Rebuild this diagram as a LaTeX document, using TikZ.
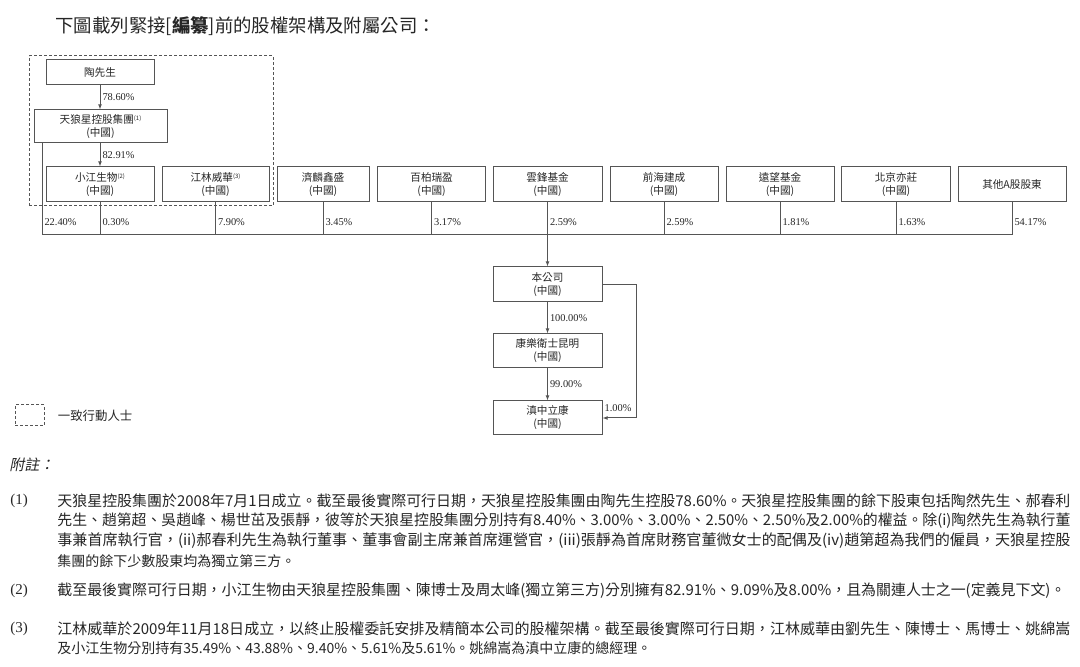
\documentclass[tikz,border=0pt]{standalone}
\usepackage{fontspec}
\usepackage{graphicx}
\setmainfont{Noto Sans CJK TC}
\newfontfamily\serifnum{Liberation Serif}
\newfontfamily\slantcjk[FakeSlant=0.2]{Noto Sans CJK TC}
\usetikzlibrary{positioning, arrows.meta}
\definecolor{chartline}{HTML}{555555}
\definecolor{charttext}{HTML}{262626}

\newcommand{\refmark}[1]{\raisebox{1.6pt}{\fontsize{3}{3}\selectfont(#1)}}
% full-width note line, brought to the measure
\newcommand{\noteline}[2][506.5pt]{\resizebox{#1}{!}{#2}}

\begin{document}
\begin{tikzpicture}[x=0.5pt, y=-0.5pt,
        entity/.style={draw=chartline, line width=0.5pt, minimum width=54pt, minimum height=17.5pt, inner sep=0pt, align=center, text=charttext, font=\fontsize{5.3}{6.5}\selectfont},
        pct/.style={font=\serifnum\fontsize{5.2}{6}\selectfont, text=charttext, inner sep=1pt},
        link/.style={draw=chartline, line width=0.5pt},
        own/.style={link, -{Latex[length=2.6pt, width=2pt]}},
        concert/.style={draw=chartline, line width=0.5pt, dash pattern=on 1.5pt off 1pt},
        noteno/.style={font=\serifnum\fontsize{7.5}{9}\selectfont, text=charttext, anchor=west, inner sep=0pt},
        notetext/.style={font=\fontsize{7}{9}\selectfont, text=charttext, anchor=west, inner sep=0pt}
    ]
      \fill[white] (0,0) rectangle (1080,667);
      \useasboundingbox (0,0) rectangle (1080,667);

      \node[anchor=west, inner sep=0pt, text=charttext, font=\fontsize{9.2}{10}\selectfont] (title) at (55,26)
           {下圖載列緊接[\textbf{編纂}]前的股權架構及附屬公司：};

      % persons acting in concert
      \node[concert, minimum width=122pt, minimum height=75pt] (concertgroup) at (151,131) {};

      \node[entity, minimum height=12.5pt] (tao) at (100,72.5) {陶先生};
      \node[entity, minimum width=66.5pt, minimum height=16.5pt] (tianlang) at (100.5,126.5) {天狼星控股集團\refmark{1}\\(中國)};

      % shareholders row
      \node[entity] (xiaojiang) at (100,184.5) {小江生物\refmark{2}\\(中國)};
      \node[entity, minimum width=53.5pt] (jianglin) at (215.5,184.5) {江林威華\refmark{3}\\(中國)};
      \node[entity, minimum width=46pt] (jilin) at (323,184.5) {濟麟鑫盛\\(中國)};
      \node[entity] (baibai) at (431.6,184.5) {百柏瑞盈\\(中國)};
      \node[entity, minimum width=54.5pt] (yunfeng) at (547.5,184.5) {雲鋒基金\\(中國)};
      \node[entity] (qianhai) at (664,184.5) {前海建成\\(中國)};
      \node[entity] (yuanwang) at (780,184.5) {遠望基金\\(中國)};
      \node[entity, minimum width=54.5pt] (beijing) at (896,184.5) {北京亦莊\\(中國)};
      \node[entity] (qita) at (1012,184.5) {其他A股股東};

      % company and subsidiaries
      \node[entity, minimum width=54.5pt] (company) at (547.5,284.5) {本公司\\(中國)};
      \node[entity, minimum width=54.5pt, minimum height=17pt] (kangle) at (547.5,351) {康樂衛士昆明\\(中國)};
      \node[entity, minimum width=54.5pt, minimum height=17pt] (dianzhong) at (547.5,418) {滇中立康\\(中國)};

      \draw[own] (xiaojiang.north |- tao.south) -- node[pct, right] {78.60\%} (xiaojiang.north |- tianlang.north);
      \draw[own] (xiaojiang.north |- tianlang.south) -- node[pct, right] {82.91\%} (xiaojiang.north);

      \coordinate (busL) at (42,235);
      \draw[link] (tianlang.south -| busL) -- node[pct, right, pos=0.86] {22.40\%} (busL) -- (qita.south |- busL);
      \foreach \firm/\share in {xiaojiang/0.30, jianglin/7.90, jilin/3.45, baibai/3.17, qianhai/2.59, yuanwang/1.81, beijing/1.63, qita/54.17}
        \draw[link] (\firm.south) -- node[pct, right, pos=0.6] {\share\%} (\firm.south |- busL);
      \draw[own] (yunfeng.south) -- node[pct, right, pos=0.6] {2.59\%} (yunfeng.south |- busL) -- (company.north);

      \draw[own] (company) -- node[pct, right] {100.00\%} (kangle);
      \draw[own] (kangle) -- node[pct, right] {99.00\%} (dianzhong);
      \coordinate (bypass) at (636,0);
      \draw[own] (company.east) -- (company.east -| bypass) -- node[pct, pos=1, anchor=south east, xshift=-1pt, yshift=2pt] {1.00\%} (dianzhong.east -| bypass) -- (dianzhong.east);

      % legend
      \node[concert, minimum width=14.5pt, minimum height=10.5pt, inner sep=0pt] (legendbox) at (29.5,415.5) {};
      \node[right=6.5pt of legendbox, inner sep=0pt, text=charttext, font=\fontsize{6.2}{7}\selectfont] (legendtext) {一致行動人士};

      % notes
      \node[anchor=west, inner sep=0pt, text=charttext, font=\slantcjk\fontsize{7.5}{9}\selectfont] (notehead) at (9,465) {附註：};

      \node[noteno] (n1) at (10,501) {(1)};
      \node[notetext] (n1a) at (57,501) {\noteline{天狼星控股集團於2008年7月1日成立。截至最後實際可行日期，天狼星控股集團由陶先生控股78.60\%。天狼星控股集團的餘下股東包括陶然先生、郝春利}};
      \node[notetext] (n1b) at (57,521) {\noteline{先生、趙第超、吳趙峰、楊世茁及張靜，彼等於天狼星控股集團分別持有8.40\%、3.00\%、3.00\%、2.50\%、2.50\%及2.00\%的權益。除(i)陶然先生為執行董}};
      \node[notetext] (n1c) at (57,541) {\noteline{事兼首席執行官，(ii)郝春利先生為執行董事、董事會副主席兼首席運營官，(iii)張靜為首席財務官董微女士的配偶及(iv)趙第超為我們的僱員，天狼星控股}};
      \node[notetext] (n1d) at (57,561) {集團的餘下少數股東均為獨立第三方。};

      \node[noteno] (n2) at (10,591) {(2)};
      \node[notetext] (n2a) at (57,591) {\noteline[504pt]{截至最後實際可行日期，小江生物由天狼星控股集團、陳博士及周太峰(獨立第三方)分別擁有82.91\%、9.09\%及8.00\%，且為關連人士之一(定義見下文)。}};

      \node[noteno] (n3) at (10,629) {(3)};
      \node[notetext] (n3a) at (57,629) {\noteline{江林威華於2009年11月18日成立，以終止股權委託安排及精簡本公司的股權架構。截至最後實際可行日期，江林威華由劉先生、陳博士、馬博士、姚綿嵩}};
      \node[notetext] (n3b) at (57,648) {及小江生物分別持有35.49\%、43.88\%、9.40\%、5.61\%及5.61\%。姚綿嵩為滇中立康的總經理。};
    \end{tikzpicture}
\end{document}
